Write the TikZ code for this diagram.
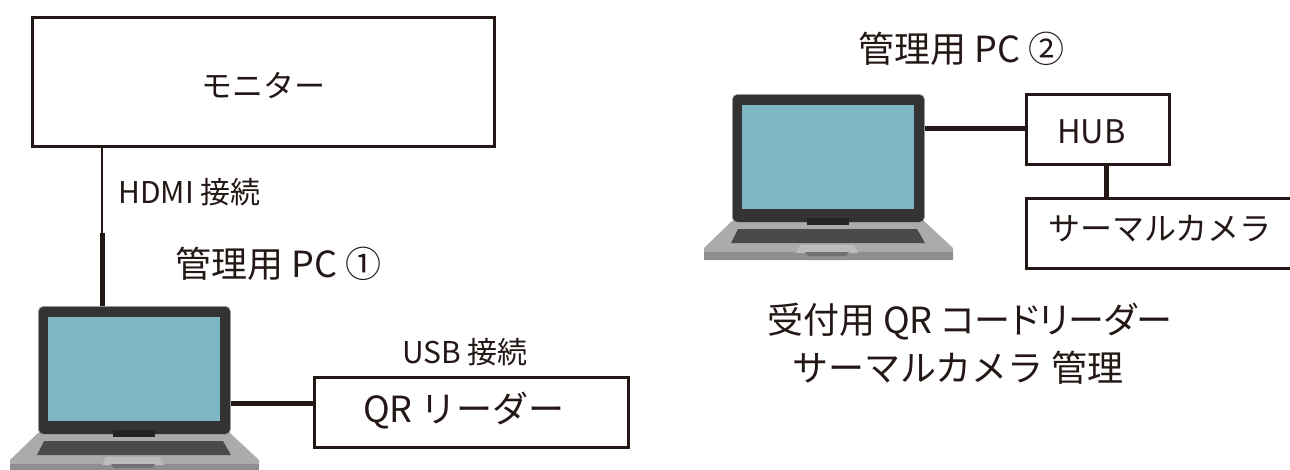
\documentclass[tikz,border=0pt]{standalone}
\usepackage{fontspec}
\setmainfont{Noto Sans CJK JP}
\definecolor{ink}{HTML}{231815}
\definecolor{lid}{HTML}{333333}
\definecolor{scr}{HTML}{7FB6C4}
\definecolor{basec}{HTML}{ABABAB}
\definecolor{basedk}{HTML}{8E8E8E}
\definecolor{keys}{HTML}{4A4A4A}
\newcommand{\fsz}[1]{\fontsize{#1pt}{#1pt}\selectfont}
\tikzset{
  x=1pt,y=-1pt,
  box/.style={draw=ink,line width=2.5pt,fill=white,minimum width=#1,anchor=north west,inner sep=0pt},
  lbl/.style={text=ink,inner sep=0pt,anchor=base west},
  wire/.style={draw=ink,line width=5pt},
  wirethin/.style={draw=ink,line width=2.5pt},
  laptop/.pic={
    \fill[basec] (0,127) -- (192,127) -- (221,154) -- (221,166) -- (-28,166) -- (-28,154) -- cycle;
    \fill[basedk] (-28,158) -- (221,158) -- (221,166) -- (-28,166) -- cycle;
    \fill[basec!80!white] (68,151) -- (122,151) -- (126,159) -- (64,159) -- cycle;
    \fill[basedk!80!black] (73,158) -- (117,158) -- (114,162) -- (76,162) -- cycle;
    \fill[keys] (6,135) -- (185,135) -- (193,149) -- (-1,149) -- cycle;
    \node[fill=lid,draw=lid!50!white,line width=.8pt,rounded corners=5pt,minimum width=192pt,minimum height=128pt,inner sep=0pt,anchor=north west] (-lid) at (0,0) {};
    \fill[scr] (9.5,11) rectangle (182,115);
    \fill[lid!70!black] (75,124) rectangle (117,131);
  }
}
\begin{document}
\begin{tikzpicture}
\useasboundingbox (0,0) rectangle (1290,469);
\clip (0,0) rectangle (1290,469);
\pic (pc1) at (38,306) {laptop};
\pic (pc2) at (732,94) {laptop};

\node[box=462pt,minimum height=129pt] (mon) at (31,16) {};
\node[box=314pt,minimum height=70pt] (qr) at (313,376) {};
\node[box=143pt,minimum height=70pt] (hub) at (1025,93) {};
\node[box=280pt,minimum height=70pt] (cam) at (1025,197) {};

\coordinate (j1) at (102,233);
\coordinate (j2) at (102,403);
\coordinate (j3) at (102,128);
\coordinate (j4) at (1106,197);
\draw[wirethin] (mon.south -| j1) -- (j1);
\draw[wire] (j1) -- (j1 |- pc1-lid.north);
\draw[wire] (pc1-lid.east |- j2) -- (qr.west |- j2);
\draw[wire] (pc2-lid.east |- j3) -- (hub.west |- j3);
\draw[wire] (j4 |- hub.south) -- (j4);

\node[lbl,font=\fsz{31}] (t1) at (201,97) {モニター};
\node[lbl,font=\fsz{30}] (t2) at (118,203) {HDMI 接続};
\node[lbl,font=\fsz{36}] (t3) at (175,277) {管理用 PC ①};
\node[lbl,font=\fsz{30}] (t4) at (402,363) {USB 接続};
\node[lbl,font=\fsz{36}] (t5) at (363,422) {QR リーダー};
\node[lbl,font=\fsz{36}] (t6) at (858,62) {管理用 PC ②};
\node[lbl,font=\fsz{32.5}] (t7) at (1057,143) {HUB};
\node[lbl,font=\fsz{32}] (t8) at (1048,240) {サーマルカメラ};
\node[lbl,font=\fsz{36}] (t9) at (767,333) {受付用 QR {\addfontfeatures{RawFeature=+palt}コードリーダー}};
\node[lbl,font=\fsz{36}] (t10) at (792,381) {サーマルカメラ 管理};
\end{tikzpicture}
\end{document}
